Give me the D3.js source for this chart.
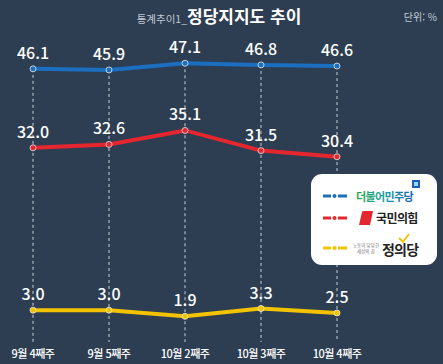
<!DOCTYPE html>
<html lang="ko">
<head>
<meta charset="utf-8">
<script src="https://d3js.org/d3.v7.min.js"></script>
<style>
  body { margin:0; background:#2d3e52; }
  text { font-family:"Noto Sans CJK KR","Noto Sans",sans-serif; }
</style>
</head>
<body>
<script>
var weeks = ["9월 4째주", "9월 5째주", "10월 2째주", "10월 3째주", "10월 4째주"];
var minjoo = [46.1, 45.9, 47.1, 46.8, 46.6];
var ppp = [32.0, 32.6, 35.1, 31.5, 30.4];
var justice = [3.0, 3.0, 1.9, 3.3, 2.5];
var partyNames = ["더불어민주당", "국민의힘", "정의당"];
var colors = ["#1b6fc0", "#e6262e", "#f4c300"];

var w = 443, h = 364;
var svg = d3.select("body").append("svg").attr("width", w).attr("height", h);
svg.append("rect").attr("width", w).attr("height", h).attr("fill", "#2d3e52");

var x = d3.scalePoint().domain(weeks).range([33, 337]);
var y = d3.scaleLinear().domain([0, 50]).range([327, 47]);

// title
var title = svg.append("text").attr("x", 219).attr("y", 23).attr("text-anchor", "middle");
title.append("tspan").attr("font-size", 10.5).attr("fill", "#c3cad3").text("통계추이1_");
title.append("tspan").attr("font-size", 17).attr("font-weight", "bold").attr("fill", "#fff").text("정당지지도 추이");
svg.append("text").attr("x", 437).attr("y", 21).attr("text-anchor", "end")
  .attr("font-size", 10).attr("fill", "#c3cad3").text("단위: %");

// dashed guides
weeks.forEach(function(wk, i){
  svg.append("line")
    .attr("x1", x(wk)).attr("x2", x(wk))
    .attr("y1", y(minjoo[i])).attr("y2", 342)
    .attr("stroke", "#c9cfd7").attr("stroke-width", 1).attr("stroke-dasharray", "3,3");
});

// x labels
svg.selectAll(".xl").data(weeks).enter().append("text")
  .attr("x", function(d){ return x(d); }).attr("y", 358)
  .attr("text-anchor", "middle").attr("font-size", 11).attr("font-weight", 500)
  .attr("letter-spacing", -0.5).attr("fill", "#fff").text(function(d){ return d; });

var series = [minjoo, ppp, justice];
var line = d3.line().x(function(d, i){ return x(weeks[i]); }).y(function(d){ return y(d); });

series.forEach(function(s, k){
  svg.append("path").attr("d", line(s)).attr("fill", "none")
    .attr("stroke", colors[k]).attr("stroke-width", 4);
  svg.selectAll(".p" + k).data(s).enter().append("circle")
    .attr("cx", function(d, i){ return x(weeks[i]); })
    .attr("cy", function(d){ return y(d); })
    .attr("r", 3).attr("fill", colors[k]).attr("stroke", "#e8e8e8").attr("stroke-width", 0.8);
  svg.selectAll(".t" + k).data(s).enter().append("text")
    .attr("x", function(d, i){ return x(weeks[i]); })
    .attr("y", function(d){ return y(d) - 10; })
    .attr("text-anchor", "middle").attr("font-size", 16).attr("font-weight", 500)
    .attr("fill", "#fff").text(function(d){ return d.toFixed(1); });
});

// legend
var lg = svg.append("g");
lg.append("rect").attr("x", 311).attr("y", 174).attr("width", 126).attr("height", 91)
  .attr("rx", 11).attr("fill", "#fff");
var rowsY = [196, 218, 248];
rowsY.forEach(function(ry, k){
  lg.append("line").attr("x1", 323).attr("x2", 331).attr("y1", ry).attr("y2", ry)
    .attr("stroke", colors[k]).attr("stroke-width", 3);
  lg.append("line").attr("x1", 338).attr("x2", 347).attr("y1", ry).attr("y2", ry)
    .attr("stroke", colors[k]).attr("stroke-width", 3);
  lg.append("circle").attr("cx", 334.5).attr("cy", ry).attr("r", 2).attr("fill", colors[k]);
});
// 더불어민주당
var grad = svg.append("defs").append("linearGradient").attr("id", "mj");
grad.append("stop").attr("offset", "0%").attr("stop-color", "#27a84a");
grad.append("stop").attr("offset", "45%").attr("stop-color", "#1aa3a0");
grad.append("stop").attr("offset", "100%").attr("stop-color", "#1a5fb8");
lg.append("text").attr("x", 356).attr("y", 200.5).attr("font-size", 11).attr("font-weight", "bold")
  .attr("letter-spacing", -0.6).attr("fill", "url(#mj)").text(partyNames[0]);
lg.append("rect").attr("x", 412).attr("y", 180).attr("width", 8).attr("height", 8).attr("fill", "#1a5fb8");
lg.append("rect").attr("x", 414).attr("y", 182).attr("width", 4).attr("height", 4).attr("fill", "#9fd4f0");
// 국민의힘
lg.append("path").attr("d", "M362,212 Q362,211 364,211 L373,211 L370,225 L359,225 Z").attr("fill", "#e6262e");
lg.append("text").attr("x", 376).attr("y", 222.5).attr("font-size", 12).attr("font-weight", "bold")
  .attr("letter-spacing", -0.6).attr("fill", "#222").text(partyNames[1]);
// 정의당
lg.append("text").attr("x", 366).attr("y", 247).attr("text-anchor", "middle").attr("font-size", 4.5)
  .attr("fill", "#777").text("노동이 당당한");
lg.append("text").attr("x", 366).attr("y", 253).attr("text-anchor", "middle").attr("font-size", 4.5)
  .attr("fill", "#777").text("세상의 꿈");
lg.append("path").attr("d", "M399,238 L403,242 L409,234").attr("fill", "none")
  .attr("stroke", "#f4c300").attr("stroke-width", 1.8);
lg.append("text").attr("x", 382).attr("y", 255).attr("font-size", 14).attr("font-weight", "bold")
  .attr("letter-spacing", -0.8).attr("fill", "#222").text(partyNames[2]);
</script>
</body>
</html>
